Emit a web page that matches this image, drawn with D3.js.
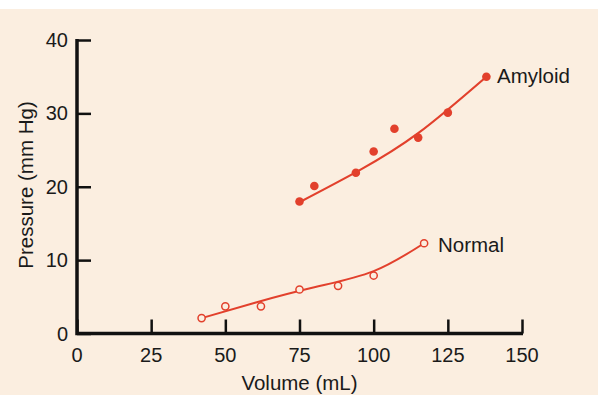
<!DOCTYPE html>
<html><head><meta charset="utf-8">
<script src="https://cdn.jsdelivr.net/npm/d3@7"></script>
<style>
html,body{margin:0;padding:0;background:#fff;}
svg{display:block;}
text{font-family:"Liberation Sans",Arial,Helvetica,sans-serif;fill:#1a1a1a;}
</style></head>
<body>
<script>
// Data
const xTicks = [0, 25, 50, 75, 100, 125, 150];
const yTicks = [0, 10, 20, 30, 40];
const amyloidVolume = [75, 80, 94, 100, 107, 115, 125, 138];
const amyloidPressure = [18, 20.1, 21.9, 24.8, 27.9, 26.7, 30.1, 35];
const amyloidFitVolume = [75, 95, 115, 138];
const amyloidFitPressure = [17.9, 22.2, 27.3, 35];
const normalVolume = [42, 50, 62, 75, 88, 100, 117];
const normalPressure = [2.1, 3.7, 3.7, 6.0, 6.5, 7.9, 12.3];
const normalFitVolume = [42, 60, 80, 100, 117];
const normalFitPressure = [2.1, 4.2, 6.3, 8.5, 12.3];
const seriesLabels = ["Amyloid", "Normal"];

const W = 598, H = 395;
const red = "#e2402c";
const svg = d3.select("body").append("svg").attr("width", W).attr("height", H);
svg.append("rect").attr("x",0).attr("y",9).attr("width",W).attr("height",H-9).attr("fill","#fbeee0");

const x = d3.scaleLinear().domain([0,150]).range([77,522]);
const y = d3.scaleLinear().domain([0,40]).range([333.5,40]);

// axes
const xAxis = svg.append("g").attr("transform",`translate(0,${y(0)})`)
  .call(d3.axisTop(x).tickValues(xTicks).tickSize(14).tickFormat(""));
xAxis.select(".domain").remove();
xAxis.selectAll("line").attr("stroke","#111").attr("stroke-width",2.5);
const yAxis = svg.append("g").attr("transform",`translate(${x(0)},0)`)
  .call(d3.axisRight(y).tickValues(yTicks).tickSize(14).tickFormat(""));
yAxis.select(".domain").remove();
yAxis.selectAll("line").attr("stroke","#111").attr("stroke-width",2.5);
// axis lines
svg.append("path").attr("d",`M${x(0)},${y(40)-1}V${y(0)}H${x(150)+1}`)
  .attr("fill","none").attr("stroke","#111").attr("stroke-width",3.5);

// tick labels
svg.append("g").selectAll("text").data(xTicks).join("text")
  .attr("x",d=>x(d)).attr("y",362).attr("text-anchor","middle")
  .attr("font-size",20).text(d=>d);
svg.append("g").selectAll("text").data(yTicks).join("text")
  .attr("x",68).attr("y",d=>y(d)+7).attr("text-anchor","end")
  .attr("font-size",20).text(d=>d);

// axis titles
svg.append("text").attr("x",x(75)).attr("y",390).attr("text-anchor","middle")
  .attr("font-size",20.5).text("Volume (mL)");
svg.append("text").attr("transform",`translate(33,185) rotate(-90)`).attr("text-anchor","middle")
  .attr("font-size",20.5).text("Pressure (mm Hg)");

// fit curves
const line = d3.line().x(d=>x(d[0])).y(d=>y(d[1])).curve(d3.curveNatural);
svg.append("path").datum(amyloidFitVolume.map((v,i)=>[v,amyloidFitPressure[i]]))
  .attr("d",line).attr("fill","none").attr("stroke",red).attr("stroke-width",2.2);
svg.append("path").datum(normalFitVolume.map((v,i)=>[v,normalFitPressure[i]]))
  .attr("d",line).attr("fill","none").attr("stroke",red).attr("stroke-width",2);

// points
svg.append("g").selectAll("circle").data(amyloidVolume.map((v,i)=>[v,amyloidPressure[i]])).join("circle")
  .attr("cx",d=>x(d[0])).attr("cy",d=>y(d[1])).attr("r",4.3).attr("fill",red);
svg.append("g").selectAll("circle").data(normalVolume.map((v,i)=>[v,normalPressure[i]])).join("circle")
  .attr("cx",d=>x(d[0])).attr("cy",d=>y(d[1])).attr("r",3.6).attr("fill","#fbeee0")
  .attr("stroke",red).attr("stroke-width",1.5);

// series labels
svg.append("text").attr("x",497).attr("y",83).attr("font-size",20.5).text(seriesLabels[0]);
svg.append("text").attr("x",438).attr("y",252).attr("font-size",20.5).text(seriesLabels[1]);
</script>
</body></html>
